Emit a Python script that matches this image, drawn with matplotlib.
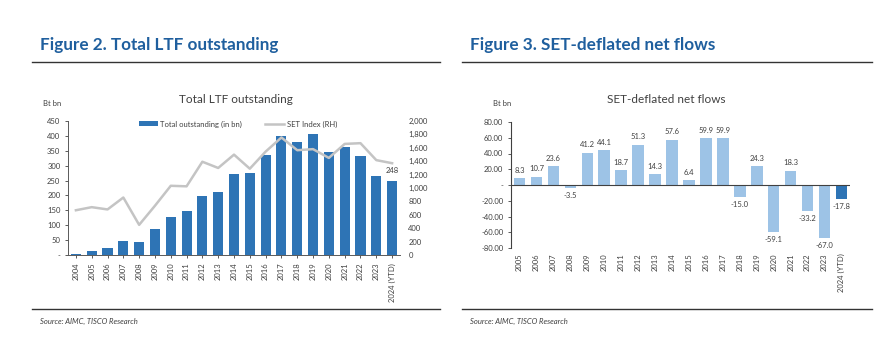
import matplotlib.pyplot as plt
import matplotlib.ticker as mticker
import numpy as np

plt.rcParams['font.family'] = ['Lato', 'DejaVu Sans']

# Данные: общий объём LTF (млрд бат) и индекс SET
ltf_years = ['2004', '2005', '2006', '2007', '2008', '2009', '2010', '2011', '2012',
             '2013', '2014', '2015', '2016', '2017', '2018', '2019', '2020', '2021',
             '2022', '2023', '2024 (YTD)']
ltf_outstanding = [5, 12, 25, 48, 43, 86, 128, 148, 198, 213, 272, 276, 336, 398,
                   380, 406, 346, 364, 331, 264, 248]
set_index = [668, 714, 680, 858, 450, 735, 1033, 1025, 1392, 1299, 1498, 1288, 1543,
             1754, 1564, 1580, 1449, 1658, 1669, 1416, 1370]

# Данные: чистые потоки с поправкой на SET
flow_years = ltf_years[1:]
net_flows = [8.3, 10.7, 23.6, -3.5, 41.2, 44.1, 18.7, 51.3, 14.3, 57.6, 6.4, 59.9,
             59.9, -15.0, 24.3, -59.1, 18.3, -33.2, -67.0, -17.8]

BLUE = '#2e74b5'
LIGHT = '#9dc3e6'
GREY_LINE = '#c4c4c4'
TXT = '#404040'
HEAD = '#1f5f9e'

fig = plt.figure(figsize=(8.85, 3.47), dpi=100)

# Заголовки и линии-разделители
for x0, x1, title in [(32, 440, 'Figure 2. Total LTF outstanding'),
                      (462, 872, 'Figure 3. SET-deflated net flows')]:
    fig.text((x0 + 8) / 885, 1 - 45 / 347, title, fontsize=12.3, fontweight='bold',
             color=HEAD, va='center', ha='left')
    fig.add_artist(plt.Line2D([x0 / 885, x1 / 885], [1 - 62 / 347] * 2,
                              color='#333333', lw=1.0))
    fig.add_artist(plt.Line2D([x0 / 885, x1 / 885], [1 - 309 / 347] * 2,
                              color='#333333', lw=1.0))
    fig.text((x0 + 8) / 885, 1 - 321 / 347, 'Source: AIMC, TISCO Research',
             fontsize=5.5, style='italic', color=TXT, va='center', ha='left')

# ---- Рисунок 2 ----
ax1 = fig.add_axes([68 / 885, 1 - 255 / 347, 332 / 885, 134 / 347])
x = np.arange(len(ltf_years))
ax1.bar(x, ltf_outstanding, width=0.64, color=BLUE, label='Total outstanding (in bn)', zorder=2)
ax1.set_ylim(0, 450)
ax1.set_xlim(-0.5, len(x) - 0.5)
ax1.set_yticks(range(0, 451, 50))
ax1.yaxis.set_major_formatter(mticker.FuncFormatter(lambda v, p: '-' if v == 0 else f'{int(v)}'))
ax1.set_xticks(x)
ax1.set_xticklabels(ltf_years, rotation=90)
ax1.tick_params(axis='both', labelsize=5.5, colors=TXT, length=2, width=0.6)
for s in ['top', 'right']:
    ax1.spines[s].set_visible(False)
for s in ['left', 'bottom']:
    ax1.spines[s].set_color('#595959')
    ax1.spines[s].set_linewidth(0.7)
ax1.annotate(f'{ltf_outstanding[-1]}', (x[-1], ltf_outstanding[-1]), xytext=(0, 5),
             textcoords='offset points', ha='center', va='bottom', fontsize=5.5, color=TXT)

ax1b = ax1.twinx()
ax1b.plot(x, set_index, color=GREY_LINE, lw=1.8, label='SET Index (RH)', zorder=3)
ax1b.set_ylim(0, 2000)
ax1b.set_yticks(range(0, 2001, 200))
ax1b.yaxis.set_major_formatter(mticker.FuncFormatter(lambda v, p: f'{int(v):,}'))
ax1b.tick_params(axis='y', labelsize=5.5, colors=TXT, length=0, pad=6)
for s in ax1b.spines.values():
    s.set_visible(False)

h1, l1 = ax1.get_legend_handles_labels()
h2, l2 = ax1b.get_legend_handles_labels()
fig.legend(h1 + h2, l1 + l2, loc='center', bbox_to_anchor=(238 / 885, 1 - 124 / 347),
           ncol=2, frameon=False, fontsize=5.5, handlelength=2.5, columnspacing=3,
           handletextpad=0.3, labelcolor=TXT)

fig.text(236 / 885, 1 - 100 / 347, 'Total LTF outstanding', fontsize=8.5,
         color=TXT, ha='center', va='center')
fig.text(52 / 885, 1 - 104 / 347, 'Bt bn', fontsize=5.5, color=TXT, ha='center', va='center')

# ---- Рисунок 3 ----
ax2 = fig.add_axes([511 / 885, 1 - 248 / 347, 339 / 885, 126 / 347])
x2 = np.arange(len(flow_years))
colors = [LIGHT] * (len(flow_years) - 1) + [BLUE]
ax2.bar(x2, net_flows, width=0.68, color=colors, zorder=2)
ax2.axhline(0, color='#404040', lw=0.8, zorder=3)
ax2.set_ylim(-80, 80)
ax2.set_xlim(-0.5, len(x2) - 0.5)
ax2.set_yticks(range(-80, 81, 20))
ax2.yaxis.set_major_formatter(mticker.FuncFormatter(lambda v, p: '-' if v == 0 else f'{v:.2f}'))
ax2.set_xticks(x2)
ax2.set_xticklabels(flow_years, rotation=90)
ax2.tick_params(axis='x', labelsize=5.5, colors=TXT, length=0, pad=4)
ax2.tick_params(axis='y', labelsize=5.5, colors=TXT, length=2, width=0.6)
for s in ['top', 'right', 'bottom']:
    ax2.spines[s].set_visible(False)
ax2.spines['left'].set_color('#404040')
ax2.spines['left'].set_linewidth(0.8)
for xi, v in zip(x2, net_flows):
    ax2.annotate(f'{v:.1f}', (xi, v), xytext=(0, 3 if v >= 0 else -3),
                 textcoords='offset points', ha='center',
                 va='bottom' if v >= 0 else 'top', fontsize=5.5, color=TXT)

fig.text(666 / 885, 1 - 100 / 347, 'SET-deflated net flows', fontsize=8.5,
         color=TXT, ha='center', va='center')
fig.text(502 / 885, 1 - 103 / 347, 'Bt bn', fontsize=5.5, color=TXT, ha='center', va='center')

fig.savefig('out.png', dpi=100)
